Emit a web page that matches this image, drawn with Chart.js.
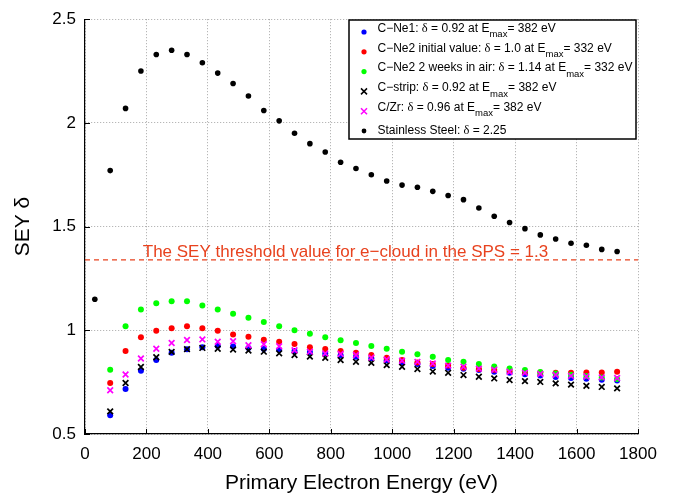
<!DOCTYPE html>
<html>
<head>
<meta charset="utf-8">
<script src="https://cdn.jsdelivr.net/npm/chart.js@4.4.1/dist/chart.umd.min.js"></script>
<style>
  body { margin: 0; background: #fff; }
  #wrap { width: 686px; height: 500px; }
</style>
</head>
<body>
<div id="wrap"><canvas id="sey" width="686" height="500"></canvas></div>
<script>
// ---------------- data ----------------
const energy = [32, 82, 132, 182, 232, 282, 332, 382, 432, 482, 532, 582, 632, 682, 732, 782, 832, 882,
                932, 982, 1032, 1082, 1132, 1182, 1232, 1282, 1332, 1382, 1432, 1482, 1532, 1582, 1632, 1682, 1732];

const cNe1 = [null, 0.59, 0.717, 0.805, 0.857, 0.892, 0.909, 0.918, 0.924, 0.922, 0.915, 0.91, 0.906, 0.90, 0.895, 0.888, 0.88, 0.872,
              0.865, 0.855, 0.845, 0.838, 0.828, 0.82, 0.815, 0.808, 0.80, 0.795, 0.788, 0.782, 0.775, 0.77, 0.766, 0.762, 0.758];
const cNe2Init = [null, 0.746, 0.90, 0.966, 0.998, 1.01, 1.02, 1.01, 0.998, 0.98, 0.969, 0.955, 0.945, 0.934, 0.918, 0.91, 0.90, 0.892,
                  0.881, 0.868, 0.857, 0.845, 0.838, 0.83, 0.82, 0.813, 0.81, 0.805, 0.80, 0.797, 0.795, 0.795, 0.797, 0.797, 0.80];
const cNe2Air = [null, 0.81, 1.02, 1.10, 1.13, 1.14, 1.14, 1.12, 1.10, 1.08, 1.06, 1.04, 1.02, 1.00, 0.983, 0.967, 0.952, 0.939,
                 0.924, 0.911, 0.897, 0.885, 0.872, 0.857, 0.848, 0.837, 0.825, 0.816, 0.808, 0.799, 0.792, 0.786, 0.78, 0.772, 0.765];
const cStrip = [null, 0.609, 0.746, 0.823, 0.870, 0.896, 0.909, 0.915, 0.911, 0.907, 0.902, 0.897, 0.889, 0.881, 0.873, 0.867, 0.857, 0.848,
                0.843, 0.832, 0.824, 0.813, 0.801, 0.795, 0.784, 0.776, 0.768, 0.760, 0.755, 0.751, 0.744, 0.738, 0.732, 0.727, 0.720];
const cZr = [null, 0.711, 0.787, 0.864, 0.911, 0.939, 0.953, 0.956, 0.945, 0.947, 0.928, 0.933, 0.923, 0.904, 0.897, 0.888, 0.886, 0.881,
             0.868, 0.859, 0.853, 0.848, 0.84, 0.83, 0.824, 0.815, 0.81, 0.80, 0.795, 0.79, 0.785, 0.78, 0.777, 0.773, 0.77];
const steel = [1.15, 1.77, 2.07, 2.25, 2.33, 2.35, 2.33, 2.29, 2.24, 2.19, 2.13, 2.06, 2.01, 1.95, 1.90, 1.86, 1.81, 1.78,
               1.75, 1.72, 1.70, 1.69, 1.67, 1.65, 1.63, 1.59, 1.55, 1.52, 1.49, 1.46, 1.44, 1.42, 1.41, 1.39, 1.38];

const threshold = 1.34;
const thresholdText = "The SEY threshold value for e\u2212cloud in the SPS = 1.3";

const xTicks = [0, 200, 400, 600, 800, 1000, 1200, 1400, 1600, 1800];
const yTicks = [0.5, 1, 1.5, 2, 2.5];

// legend text: [before δ, after δ, subscript, tail]
const legendText = [
    ["C\u2212Ne1: ", " = 0.92 at E", "max", "= 382 eV"],
    ["C\u2212Ne2 initial value: ", " = 1.0 at E", "max", "= 332 eV"],
    ["C\u2212Ne2 2 weeks in air: ", " = 1.14 at E", "max", "= 332 eV"],
    ["C\u2212strip: ", " = 0.92 at E", "max", "= 382 eV"],
    ["C/Zr: ", " = 0.96 at E", "max", "= 382 eV"],
    ["Stainless Steel: ", " = 2.25", "", ""]
];

const RED_TXT = "#e8421e";
const FONT = "'Liberation Sans', Arial, sans-serif";
const pts = arr => energy.map((e, i) => ({ x: e, y: arr[i] })).filter(p => p.y !== null);

function dotSet(label, arr, color, r, order) {
    return { label, data: pts(arr), pointStyle: "circle", pointRadius: r, pointHoverRadius: r,
             backgroundColor: color, borderColor: color, borderWidth: 0, showLine: false, order };
}
function crossSet(label, arr, color, order) {
    return { label, data: pts(arr), pointStyle: "crossRot", pointRadius: 4, pointHoverRadius: 4,
             backgroundColor: color, borderColor: color, borderWidth: 1.7, showLine: false, order };
}

const datasets = [
    dotSet("C-Ne1", cNe1, "#0000ff", 3, 6),
    dotSet("C-Ne2 initial", cNe2Init, "#ff0000", 3, 5),
    dotSet("C-Ne2 air", cNe2Air, "#00ff00", 3, 4),
    crossSet("C-strip", cStrip, "#000000", 3),
    crossSet("C/Zr", cZr, "#ff00ff", 2),
    dotSet("Stainless", steel, "#000000", 2.8, 1),
    {
        label: "threshold", data: [{ x: 0, y: threshold }, { x: 1800, y: threshold }],
        showLine: true, borderColor: RED_TXT, borderWidth: 1.3, borderDash: [5, 4],
        pointRadius: 0, order: 7
    }
];

const legendColors = ["#0000ff", "#ff0000", "#00ff00", "#000000", "#ff00ff", "#000000"];

// ---------------- overlay plugin: ticks, threshold text, legend ----------------
const overlay = {
    id: "overlay",
    afterDraw(chart) {
        const { ctx, scales: { x, y } } = chart;
        ctx.save();

        // inward tick marks
        ctx.strokeStyle = "#000";
        ctx.lineWidth = 1;
        ctx.beginPath();
        xTicks.forEach(v => {
            const px = Math.round(x.getPixelForValue(v)) + 0.5;
            ctx.moveTo(px, y.bottom); ctx.lineTo(px, y.bottom - 5);
        });
        yTicks.forEach(v => {
            const py = Math.round(y.getPixelForValue(v)) + 0.5;
            ctx.moveTo(x.left, py); ctx.lineTo(x.left + 5, py);
        });
        ctx.stroke();

        // threshold label
        ctx.fillStyle = RED_TXT;
        ctx.font = "17px " + FONT;
        ctx.textBaseline = "alphabetic";
        ctx.textAlign = "left";
        ctx.fillText(thresholdText, x.getPixelForValue(188), y.getPixelForValue(threshold) - 3);

        // legend box
        const bx = 349, by = 20, bw = 287, bh = 119;
        ctx.fillStyle = "#fff";
        ctx.fillRect(bx, by, bw, bh);
        ctx.strokeStyle = "#000";
        ctx.lineWidth = 1.5;
        ctx.strokeRect(bx, by, bw, bh);

        legendText.forEach((parts, i) => {
            const my = 32 + i * 19.8;
            const mx = 364;
            const col = legendColors[i];
            if (i === 3 || i === 4) {
                ctx.strokeStyle = col; ctx.lineWidth = 1.5;
                ctx.beginPath();
                ctx.moveTo(mx - 3, my - 3); ctx.lineTo(mx + 3, my + 3);
                ctx.moveTo(mx - 3, my + 3); ctx.lineTo(mx + 3, my - 3);
                ctx.stroke();
            } else {
                ctx.fillStyle = col;
                ctx.beginPath();
                ctx.arc(mx, my, i === 5 ? 2.4 : 2.6, 0, Math.PI * 2);
                ctx.fill();
            }
            const hasSub = parts[2] !== "";
            const ty = hasSub ? my - 3.5 : my;
            let tx = 377.5;
            ctx.fillStyle = "#000";
            ctx.textBaseline = "middle";
            const seg = (t, font, dy) => {
                ctx.font = font;
                ctx.fillText(t, tx, ty + dy);
                tx += ctx.measureText(t).width;
            };
            seg(parts[0], "12px " + FONT, 0);
            seg("\u03b4", "12.5px 'Liberation Serif', serif", 0);
            seg(parts[1], "12px " + FONT, 0);
            if (hasSub) {
                seg(parts[2], "9.5px " + FONT, 6);
                seg(parts[3], "12px " + FONT, 0);
            }
        });
        ctx.restore();
    }
};

// ---------------- chart ----------------
const gridOpts = { color: "rgba(0,0,0,0.35)", lineWidth: 1, drawTicks: false };

new Chart(document.getElementById("sey").getContext("2d"), {
    type: "scatter",
    data: { datasets },
    options: {
        responsive: false,
        animation: false,
        layout: { padding: { top: 16, right: 48, left: 0, bottom: 0 } },
        plugins: { legend: { display: false }, tooltip: { enabled: false } },
        scales: {
            x: {
                type: "linear", min: 0, max: 1800,
                ticks: { stepSize: 200, padding: 10, color: "#000", font: { family: FONT, size: 17 },
                         callback: v => String(v) },
                grid: gridOpts,
                border: { display: true, color: "#000", width: 1.2, dash: [1, 2] },
                title: { display: true, text: "Primary Electron Energy (eV)", color: "#000",
                         font: { family: FONT, size: 21 }, padding: { top: 0, bottom: 4 } },
                afterFit: s => { s.height = 66; }
            },
            y: {
                type: "linear", min: 0.5, max: 2.5,
                ticks: { stepSize: 0.5, padding: 9, color: "#000", font: { family: FONT, size: 17 },
                         callback: v => String(v) },
                grid: gridOpts,
                border: { display: true, color: "#000", width: 1.2, dash: [1, 2] },
                title: { display: true, text: "SEY \u03b4", color: "#000",
                         font: { family: FONT, size: 21 }, padding: { top: 11, bottom: 0 } },
                afterFit: s => { s.width = 85; }
            }
        }
    },
    plugins: [overlay]
});
</script>
</body>
</html>
